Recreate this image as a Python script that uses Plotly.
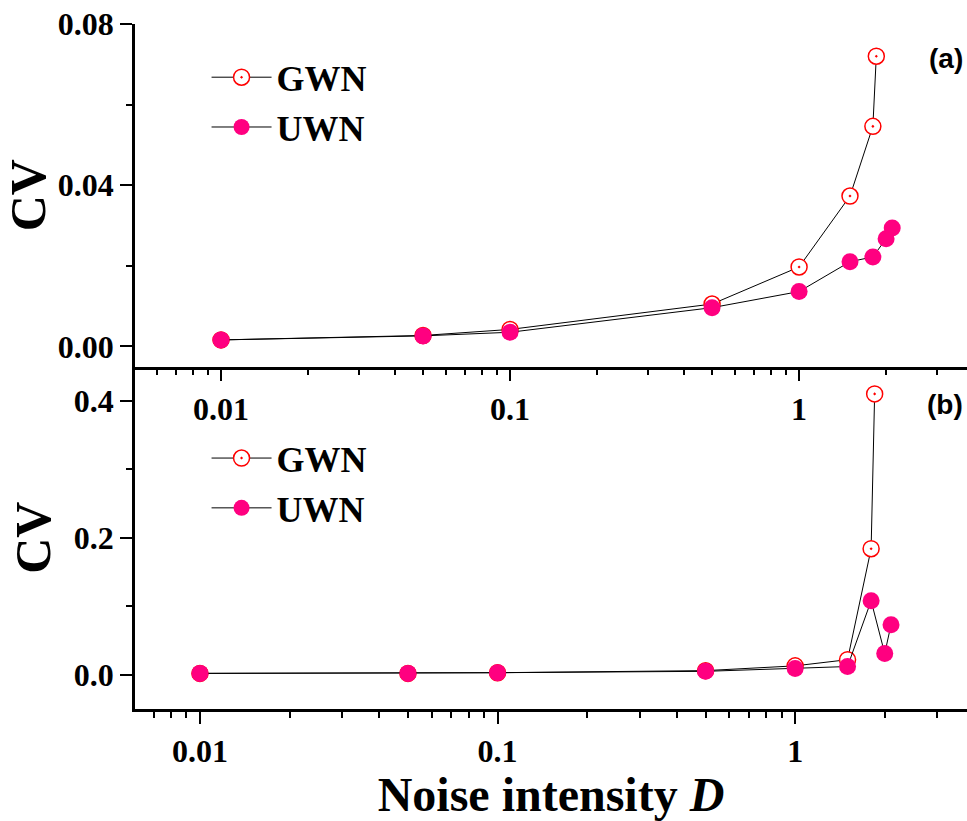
import math
import plotly.graph_objects as go
from plotly.subplots import make_subplots

# ---- data ----
d_top_gwn = [0.01, 0.05, 0.1, 0.5, 1.0, 1.5, 1.8, 1.85]
cv_top_gwn = [0.0016, 0.0027, 0.0042, 0.0105, 0.0197, 0.0373, 0.0546, 0.072]
d_top_uwn = [0.01, 0.05, 0.1, 0.5, 1.0, 1.5, 1.8, 2.0, 2.1]
cv_top_uwn = [0.0016, 0.0026, 0.0035, 0.0096, 0.0136, 0.021, 0.0222, 0.0267, 0.0294]

d_bot_gwn = [0.01, 0.05, 0.1, 0.5, 1.0, 1.5, 1.8, 1.85]
cv_bot_gwn = [0.002, 0.002, 0.003, 0.006, 0.013, 0.022, 0.184, 0.41]
d_bot_uwn = [0.01, 0.05, 0.1, 0.5, 1.0, 1.5, 1.8, 2.0, 2.1]
cv_bot_uwn = [0.002, 0.002, 0.003, 0.005, 0.009, 0.012, 0.108, 0.031, 0.073]

x_major_ticks = [0.01, 0.1, 1]
x_major_text = ["0.01", "0.1", "1"]
x_minor_ticks = [0.006, 0.007, 0.008, 0.009, 0.02, 0.03, 0.04, 0.05, 0.06, 0.07, 0.08, 0.09,
                 0.2, 0.3, 0.4, 0.5, 0.6, 0.7, 0.8, 0.9, 2, 3]
y_top_ticks = [0.0, 0.04, 0.08]
y_top_text = ["0.00", "0.04", "0.08"]
y_bot_ticks = [0.0, 0.2, 0.4]
y_bot_text = ["0.0", "0.2", "0.4"]

GWN_COLOR = "#FF0000"
UWN_COLOR = "#FF0080"
SERIF = "Liberation Serif"

fig = make_subplots(rows=2, cols=1, vertical_spacing=0.0)

def gwn_trace(x, y, legend):
    return go.Scatter(x=x, y=y, mode="lines+markers", name="GWN", legend=legend,
                      line=dict(color="black", width=1),
                      marker=dict(symbol="circle-dot", size=16, color="white",
                                  line=dict(color=GWN_COLOR, width=1.5)))

def uwn_trace(x, y, legend):
    return go.Scatter(x=x, y=y, mode="lines+markers", name="UWN", legend=legend,
                      line=dict(color="black", width=1),
                      marker=dict(symbol="circle", size=17, color=UWN_COLOR, line=dict(width=0)))

fig.add_trace(gwn_trace(d_top_gwn, cv_top_gwn, "legend"), row=1, col=1)
fig.add_trace(uwn_trace(d_top_uwn, cv_top_uwn, "legend"), row=1, col=1)
fig.add_trace(gwn_trace(d_bot_gwn, cv_bot_gwn, "legend2"), row=2, col=1)
fig.add_trace(uwn_trace(d_bot_uwn, cv_bot_uwn, "legend2"), row=2, col=1)

tickfont = dict(family=SERIF, size=32, color="black", weight="bold")

top_xrange = [math.log10(0.00504), math.log10(3.81)]
bot_xrange = [math.log10(0.00605), math.log10(3.78)]

common_x = dict(type="log", showgrid=False, zeroline=False, showline=True, linewidth=2.5,
                linecolor="black", ticks="outside", ticklen=12, tickwidth=2, tickcolor="black",
                tickvals=x_major_ticks, ticktext=x_major_text, tickfont=tickfont,
                minor=dict(tickvals=x_minor_ticks, ticks="outside", ticklen=6, tickwidth=1.5,
                           tickcolor="black", showgrid=False))

fig.update_xaxes(common_x, row=1, col=1)
fig.update_xaxes(range=top_xrange, row=1, col=1)
fig.update_xaxes(common_x, row=2, col=1)
fig.update_xaxes(range=bot_xrange, row=2, col=1,
                 title=dict(text="Noise intensity <i>D</i>",
                            font=dict(family=SERIF, size=48, color="black", weight="bold"),
                            standoff=18))

common_y = dict(showgrid=False, zeroline=False, showline=True, linewidth=2.5, linecolor="black",
                ticks="outside", ticklen=12, tickwidth=2, tickcolor="black", tickfont=tickfont,
                title=dict(text="CV", font=dict(family=SERIF, size=50, color="black", weight="bold"),
                           standoff=8))
fig.update_yaxes(common_y, row=1, col=1)
fig.update_yaxes(range=[-0.005, 0.08], tickvals=y_top_ticks, ticktext=y_top_text,
                 minor=dict(dtick=0.02, tick0=0, ticks="outside", ticklen=6, tickwidth=1.5,
                            tickcolor="black", showgrid=False), row=1, col=1)
fig.update_yaxes(common_y, row=2, col=1)
fig.update_yaxes(range=[-0.05, 0.45], tickvals=y_bot_ticks, ticktext=y_bot_text,
                 minor=dict(dtick=0.1, tick0=0, ticks="outside", ticklen=6, tickwidth=1.5,
                            tickcolor="black", showgrid=False), row=2, col=1)

# top mirror axis with inside ticks for panel (a)
fig.update_layout(
    xaxis3=dict(type="log", overlaying="x", side="top", anchor="y", matches="x",
                range=top_xrange,
                showline=True, linewidth=2.5, linecolor="black", showgrid=False, zeroline=False,
                ticks="inside", ticklen=10, tickwidth=2, tickcolor="black",
                tickvals=x_major_ticks, showticklabels=False,
                minor=dict(tickvals=x_minor_ticks, ticks="inside", ticklen=5, tickwidth=1.5,
                           tickcolor="black", showgrid=False)),
)

legend_font = dict(family=SERIF, size=36, color="black", weight="bold")
fig.update_layout(
    width=967, height=821,
    margin=dict(l=135, r=0, t=24, b=109),
    paper_bgcolor="white", plot_bgcolor="white",
    legend=dict(x=0.086, y=0.966, xanchor="left", yanchor="top", font=legend_font,
                bgcolor="rgba(0,0,0,0)", itemwidth=60, tracegroupgap=0),
    legend2=dict(x=0.086, y=0.41, xanchor="left", yanchor="top", font=legend_font,
                 bgcolor="rgba(0,0,0,0)", itemwidth=60, tracegroupgap=0),
    annotations=[
        dict(text="(a)", x=0.997, y=0.975, xref="paper", yref="paper", xanchor="right",
             yanchor="top", showarrow=False,
             font=dict(family="Liberation Sans", size=28, color="black", weight="bold")),
        dict(text="(b)", x=0.997, y=0.47, xref="paper", yref="paper", xanchor="right",
             yanchor="top", showarrow=False,
             font=dict(family="Liberation Sans", size=28, color="black", weight="bold")),
    ],
)

fig.write_html("out.html", config={"displayModeBar": False},
               post_script="document.body.style.margin='0px';document.body.style.overflow='hidden';")
